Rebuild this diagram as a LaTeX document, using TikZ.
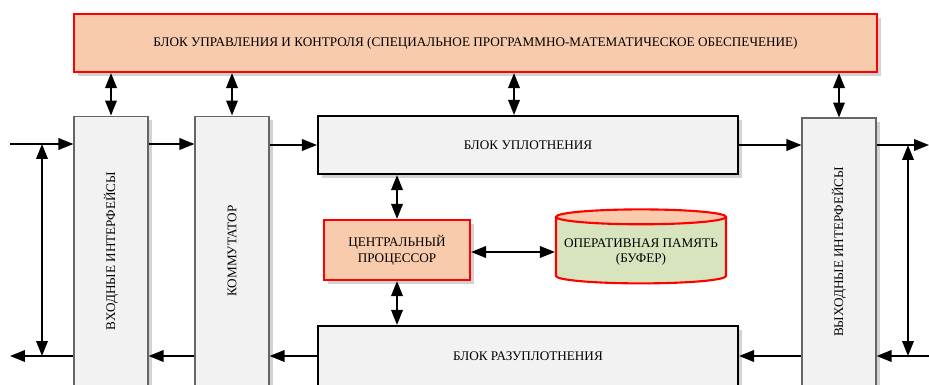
\documentclass[tikz,border=0pt]{standalone}
\usepackage{fontspec}
\setmainfont{Liberation Serif}
\usepackage{graphicx}
\usetikzlibrary{shapes.geometric, arrows.meta, shadows}

\definecolor{peach}{HTML}{F8CBAD}
\definecolor{boxgray}{HTML}{F2F2F2}
\definecolor{memgreen}{HTML}{D7E4BD}

\begin{document}
\begin{tikzpicture}[x=0.02cm, y=-0.02cm,
  font=\fontsize{7.5}{9}\selectfont,
  redbox/.style={draw=red, line width=1.2pt, fill=peach, align=center, drop shadow={opacity=0.35}},
  graybox/.style={draw=gray!80!black, line width=0.6pt, fill=boxgray, drop shadow={opacity=0.35}},
  blackbox/.style={draw=black, line width=1.2pt, fill=boxgray, drop shadow={opacity=0.35}},
  arr/.style={-{Triangle[length=3mm,width=2.3mm]}, line width=1.1pt},
  dbl/.style={{Triangle[length=3mm,width=2.3mm]}-{Triangle[length=3mm,width=2.3mm]}, line width=1.1pt}]
\useasboundingbox (0,0) rectangle (929,385);
\clip (0,0) rectangle (929,385);

% блоки
\node[redbox, minimum width=16.06cm, minimum height=1.16cm] (ctrl) at (475.5,43) {БЛОК УПРАВЛЕНИЯ И КОНТРОЛЯ (СПЕЦИАЛЬНОЕ ПРОГРАММНО-МАТЕМАТИЧЕСКОЕ ОБЕСПЕЧЕНИЕ)};
\node[graybox, minimum width=1.48cm, minimum height=5.4cm] (in) at (111,251) {\rotatebox{90}{ВХОДНЫЕ ИНТЕРФЕЙСЫ}};
\node[graybox, minimum width=1.48cm, minimum height=5.4cm] (comm) at (232,251) {\rotatebox{90}{КОММУТАТОР}};
\node[graybox, minimum width=1.48cm, minimum height=5.36cm] (out) at (839,252) {\rotatebox{90}{ВЫХОДНЫЕ ИНТЕРФЕЙСЫ}};
\node[blackbox, minimum width=8.4cm, minimum height=1.16cm] (comp) at (528,145) {БЛОК УПЛОТНЕНИЯ};
\node[blackbox, minimum width=8.4cm, minimum height=1.2cm] (decomp) at (528,356) {БЛОК РАЗУПЛОТНЕНИЯ};
\node[redbox, minimum width=2.92cm, minimum height=1.2cm] (cpu) at (397,250) {ЦЕНТРАЛЬНЫЙ\\ПРОЦЕССОР};
\node[cylinder, shape border rotate=90, aspect=0.09, draw=red, line width=1.2pt,
  cylinder uses custom fill, cylinder body fill=memgreen, cylinder end fill=peach,
  minimum width=3.4cm, minimum height=1.48cm, align=center] (mem) at (641,252) {ОПЕРАТИВНАЯ ПАМЯТЬ\\(БУФЕР)};

% внешние концы
\coordinate (lin) at (10,144);
\coordinate (lout) at (10,356);
\coordinate (lv) at (42,144);
\coordinate (rout) at (929,145);
\coordinate (rin) at (929,356);
\coordinate (rv) at (908,145);

% связи
\draw[arr] (lin) -- (lin -| in.west);
\draw[arr] (in.west |- lout) -- (lout);
\draw[dbl] (lv) -- (lv |- lout);
\draw[arr] (in.east |- lin) -- (comm.west |- lin);
\draw[arr] (comm.east |- comp) -- (comp.west);
\draw[arr] (comp.east) -- (out.west |- comp);
\draw[arr] (out.east |- rout) -- (rout);
\draw[arr] (rin) -- (out.east |- rin);
\draw[dbl] (rv) -- (rv |- rin);
\draw[arr] (out.west |- decomp) -- (decomp.east);
\draw[arr] (decomp.west) -- (comm.east |- decomp);
\draw[arr] (comm.west |- lout) -- (in.east |- lout);

\draw[dbl] (ctrl.south -| in) -- (in.north);
\draw[dbl] (ctrl.south -| comm) -- (comm.north);
\draw[dbl] ([xshift=-0.28cm]comp.north |- ctrl.south) -- ([xshift=-0.28cm]comp.north);
\draw[dbl] (ctrl.south -| out) -- (out.north);
\draw[dbl] (comp.south -| cpu) -- (cpu.north);
\draw[dbl] (cpu.south) -- (cpu.south |- decomp.north);
\draw[dbl] (cpu.east |- mem.west) -- (mem.west);
\end{tikzpicture}
\end{document}
